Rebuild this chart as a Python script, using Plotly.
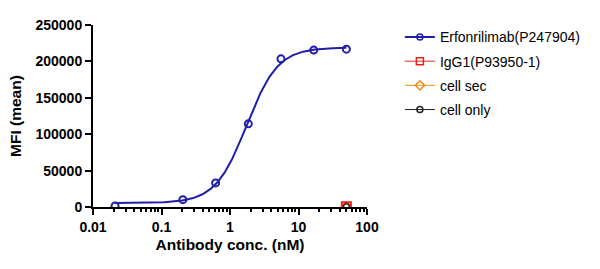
import numpy as np
import plotly.graph_objects as go

# Data
conc = [0.021, 0.205, 0.617, 1.85, 5.55, 16.7, 50.0]
mfi = [1500, 10100, 33100, 114200, 203500, 215500, 216800]
igg1_conc = [50.0]
igg1_mfi = [500]
cellsec_conc = [50.0]
cellsec_mfi = [400]
cellonly_conc = [50.0]
cellonly_mfi = [300]

# 4PL fit parameters
bottom, top, ec50, hill = 5500, 219000, 1.75, 1.9

xs = np.logspace(np.log10(0.021), np.log10(50), 300)
ys = bottom + (top - bottom) / (1 + (ec50 / xs) ** hill)

BLUE = "#1f1fa8"
RED = "#e8231f"
ORANGE = "#f28e1c"
BLACK = "#222222"

fig = go.Figure()
fig.add_trace(go.Scatter(x=xs, y=ys, mode="lines", line=dict(color=BLUE, width=2),
                         showlegend=False, hoverinfo="skip"))
fig.add_trace(go.Scatter(x=conc, y=mfi, mode="markers", showlegend=False,
                         marker=dict(symbol="circle-open", size=7, color=BLUE, line=dict(width=2))))
fig.add_trace(go.Scatter(x=cellsec_conc, y=cellsec_mfi, mode="markers", showlegend=False,
                         marker=dict(symbol="diamond-open", size=7, color=ORANGE, line=dict(width=2))))
fig.add_trace(go.Scatter(x=cellonly_conc, y=cellonly_mfi, mode="markers", showlegend=False,
                         marker=dict(symbol="circle-open", size=6, color=BLACK, line=dict(width=1.5))))
fig.add_trace(go.Scatter(x=igg1_conc, y=igg1_mfi, mode="markers", showlegend=False,
                         marker=dict(symbol="square-open", size=9, color=RED, line=dict(width=2))))

# Legend entries
legend_items = [
    ("Erfonrilimab(P247904)", BLUE, "circle-open", 6, 2),
    ("IgG1(P93950-1)", RED, "square-open", 7, 1),
    ("cell sec", ORANGE, "diamond-open", 7, 1),
    ("cell only", BLACK, "circle-open", 6, 1),
]
for name, col, sym, sz, lw in legend_items:
    fig.add_trace(go.Scatter(x=[None], y=[None], mode="lines+markers", name=name,
                             legendgroup=name,
                             line=dict(color=col, width=lw),
                             marker=dict(symbol=sym, size=sz, color=col, line=dict(width=1.5))))

fig.add_annotation(text="<b>MFI (mean)</b>", xref="paper", yref="paper",
                   x=(15 - 93) / 274, y=0.5, textangle=-90, showarrow=False,
                   xanchor="center", yanchor="middle",
                   font=dict(size=15.5, family="Liberation Sans, Arial", color="black"))

fig.update_layout(
    width=600, height=269,
    margin=dict(l=93, r=233, t=25, b=62),
    paper_bgcolor="white", plot_bgcolor="white",
    font=dict(family="Liberation Sans, Arial", size=14, color="black"),
    legend=dict(x=1.12, y=1.02, xanchor="left", yanchor="top",
                font=dict(size=14, family="Liberation Sans, Arial"),
                itemwidth=30, traceorder="grouped", tracegroupgap=3,
                bgcolor="rgba(0,0,0,0)"),
    xaxis=dict(type="log", range=[-2, 2], dtick=1,
               tickvals=[0.01, 0.1, 1, 10, 100], ticktext=["0.01", "0.1", "1", "10", "100"],
               showgrid=False, zeroline=False, showline=True, linecolor="black", linewidth=2,
               ticks="outside", ticklen=6, tickwidth=2, tickcolor="black",
               tickfont=dict(size=14, family="Liberation Sans, Arial", weight="bold"),
               minor=dict(ticks="outside", ticklen=3, tickwidth=1.5, tickcolor="black",
                          dtick="D1", showgrid=False),
               title=dict(text="<b>Antibody conc. (nM)</b>", font=dict(size=15.5), standoff=5)),
    yaxis=dict(range=[0, 250000], dtick=50000, tickformat="d",
               showgrid=False, zeroline=False, showline=True, linecolor="black", linewidth=2,
               ticks="outside", ticklen=6, tickwidth=2, tickcolor="black",
               tickfont=dict(size=14, family="Liberation Sans, Arial", weight="bold")),
)

fig.write_html("out.html")
